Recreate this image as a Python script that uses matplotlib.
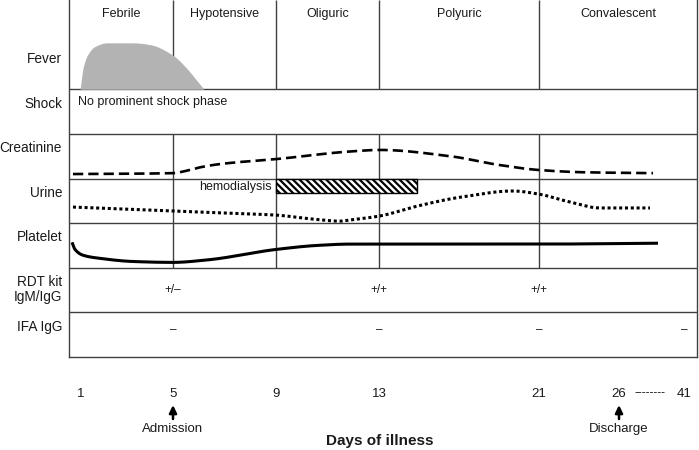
import numpy as np
import matplotlib
matplotlib.use("Agg")
import matplotlib.pyplot as plt
from matplotlib.patches import Rectangle
from matplotlib.ticker import NullLocator

plt.rcParams['font.family'] = ['Liberation Sans', 'DejaVu Sans']
plt.rcParams['hatch.linewidth'] = 1.6

# ---------------- data ----------------
phases = ['Febrile', 'Hypotensive', 'Oliguric', 'Polyuric', 'Convalescent']
phase_bounds = [5, 9, 13, 21]                 # day where each phase ends
row_labels = ['Fever', 'Shock', 'Creatinine', 'Urine', 'Platelet',
              'RDT kit\nIgM/IgG', 'IFA IgG']
tick_days = [1, 5, 9, 13, 21, 26, 41]

fever_days = [0.96, 1.10, 1.32, 1.61, 2.13, 3.26, 4.0, 5.0, 5.53, 5.92, 6.2]
fever_level = [0.0, 0.25, 0.40, 0.48, 0.52, 0.52, 0.50, 0.38, 0.235, 0.10, 0.0]

creat_days = [0.65, 5.0, 5.54, 6.05, 6.71, 7.33, 9.0, 11.87, 13.04, 16.55, 19.05, 21.0, 23.75, 33.85]
creat_level = [0.10, 0.12, 0.175, 0.25, 0.315, 0.355, 0.435, 0.605, 0.64, 0.50, 0.30, 0.19, 0.14, 0.12]

urine_days = [0.65, 5.0, 7.33, 9.0, 10.44, 11.49, 11.87, 13.04, 14.9, 17.05, 19.7, 21.0, 22.75, 24.81, 33.15]
urine_level = [0.36, 0.27, 0.22, 0.18, 0.09, 0.045, 0.07, 0.16, 0.38, 0.58, 0.72, 0.65, 0.49, 0.34, 0.34]

platelet_days = [0.61, 0.74, 1.09, 1.83, 3.26, 5.0, 6.32, 9.0, 10.59, 11.87, 21.0, 35.0]
platelet_level = [0.57, 0.41, 0.28, 0.21, 0.14, 0.12, 0.175, 0.41, 0.50, 0.53, 0.53, 0.55]

hd_start, hd_end = 9.0, 14.9

rdt_days = [5, 13, 21]
rdt_vals = ['+/\u2013', '+/+', '+/+']
ifa_days = [5, 13, 21, 41]
ifa_vals = ['\u2013', '\u2013', '\u2013', '\u2013']

admission_day = 5
discharge_day = 26

# ---------------- schematic (piecewise) time scale ----------------
scale_days = np.array([1, 5, 9, 13, 21, 26, 41], float)
scale_pos = np.array([12, 104, 207, 310, 470, 550, 615], float)   # layout units
box_width = 628.0
s0 = (scale_pos[1] - scale_pos[0]) / (scale_days[1] - scale_days[0])
s1 = (scale_pos[-1] - scale_pos[-2]) / (scale_days[-1] - scale_days[-2])


def fwd(d):
    d = np.asarray(d, float)
    out = np.interp(d, scale_days, scale_pos)
    out = np.where(d < scale_days[0], scale_pos[0] + (d - scale_days[0]) * s0, out)
    out = np.where(d > scale_days[-1], scale_pos[-1] + (d - scale_days[-1]) * s1, out)
    return out


def inv(p):
    p = np.asarray(p, float)
    out = np.interp(p, scale_pos, scale_days)
    out = np.where(p < scale_pos[0], scale_days[0] + (p - scale_pos[0]) / s0, out)
    out = np.where(p > scale_pos[-1], scale_days[-1] + (p - scale_pos[-1]) / s1, out)
    return out


def pchip(x, y, xs):
    x = np.asarray(x, float); y = np.asarray(y, float)
    h = np.diff(x); d = np.diff(y) / h
    n = len(x); m = np.zeros(n)
    for k in range(1, n - 1):
        if d[k - 1] * d[k] > 0:
            w1 = 2 * h[k] + h[k - 1]; w2 = h[k] + 2 * h[k - 1]
            m[k] = (w1 + w2) / (w1 / d[k - 1] + w2 / d[k])
    m[0] = d[0]; m[-1] = d[-1]
    idx = np.clip(np.searchsorted(x, xs) - 1, 0, n - 2)
    t = (xs - x[idx]) / h[idx]
    h00 = 2 * t**3 - 3 * t**2 + 1
    h10 = t**3 - 2 * t**2 + t
    h01 = -2 * t**3 + 3 * t**2
    h11 = t**3 - t**2
    return h00 * y[idx] + h10 * h[idx] * m[idx] + h01 * y[idx + 1] + h11 * h[idx] * m[idx + 1]


def smooth(days, levels, n=800):
    p = fwd(days)
    ps = np.linspace(p[0], p[-1], n)
    return inv(ps), pchip(p, levels, ps)


# ---------------- figure ----------------
W, H = 699, 450
fig = plt.figure(figsize=(W / 100, H / 100), dpi=100)
ax = fig.add_axes([69 / W, (H - 357) / H, 628 / W, 357 / H])
ax.set_xscale('function', functions=(fwd, inv))
ax.set_xlim(float(inv(0.0)), float(inv(box_width)))
ax.set_ylim(0, 8)

gcol = '#404040'
tcol = '#1a1a1a'
for s in ['left', 'right', 'bottom']:
    ax.spines[s].set_color(gcol)
    ax.spines[s].set_linewidth(1.0)
ax.spines['top'].set_visible(False)

# rows: fever occupies 6-8, others 1 unit each
row_bottoms = [6, 5, 4, 3, 2, 1, 0]
for y in [1, 2, 3, 4, 5, 6]:
    ax.axhline(y, color=gcol, lw=1.0, zorder=1)
ax.vlines(phase_bounds, 6, 8, color=gcol, lw=1.0, zorder=1)
ax.vlines(phase_bounds, 2, 5, color=gcol, lw=1.0, zorder=1)

# phase headers centred in each column
edges = [float(inv(0.0))] + phase_bounds + [float(inv(box_width))]
for name, a, b in zip(phases, edges[:-1], edges[1:]):
    xc = float(inv((fwd(a) + fwd(b)) / 2))
    ax.text(xc, 7.69, name, ha='center', va='center', fontsize=9, color=tcol)

# row labels
ytrans = ax.get_yaxis_transform()
for lab, yb in zip(row_labels, row_bottoms):
    if '\n' in lab:
        ax.text(-0.011, yb + 0.51, lab, transform=ytrans, ha='right', va='center',
                fontsize=9.8, color=tcol, linespacing=1.1)
    else:
        ax.text(-0.011, yb + 0.68, lab, transform=ytrans, ha='right', va='center',
                fontsize=9.8, color=tcol)

# fever
fx, fy = smooth(fever_days, fever_level)
ax.fill_between(fx, 6, 6 + 2 * np.clip(fy, 0, None), color='#b3b3b3', lw=0, zorder=2)

# shock
ax.text(0.0143, 5.71, 'No prominent shock phase', transform=ytrans,
        ha='left', va='center', fontsize=9, color=tcol)

# creatinine
cx, cy = smooth(creat_days, creat_level)
ax.plot(cx, 4 + cy, color='black', lw=1.9, dashes=(3.9, 1.9), dash_capstyle='butt', zorder=3)

# urine
ux, uy = smooth(urine_days, urine_level)
ax.plot(ux, 3 + uy, color='black', lw=2.2, dashes=(1.0, 0.9), dash_capstyle='butt', zorder=3)

# hemodialysis
BS = chr(92)
ax.add_patch(Rectangle((hd_start, 3.675), hd_end - hd_start, 4.0 - 3.675,
                       facecolor='white', edgecolor='black', hatch=BS * 5, lw=1.0, zorder=3))
ax.annotate('hemodialysis', xy=(hd_start, 3.81), xytext=(-4, 0), textcoords='offset pixels',
            ha='right', va='center', fontsize=9, color=tcol)

# platelet
px_, py_ = smooth(platelet_days, platelet_level)
ax.plot(px_, 2 + py_, color='black', lw=2.2, solid_capstyle='butt', zorder=3)

# RDT / IFA
for d, v in zip(rdt_days, rdt_vals):
    ax.text(d, 1.50, v, ha='center', va='center', fontsize=8.5, color=tcol)
for d, v in zip(ifa_days, ifa_vals):
    ax.text(d, 0.61, v, ha='center', va='center', fontsize=8.5, color=tcol)

# x ticks (days)
ax.set_xticks(tick_days, [str(d) for d in tick_days])
ax.xaxis.set_minor_locator(NullLocator())
ax.tick_params(axis='x', length=0, pad=22, labelsize=9.5, labelcolor=tcol)
ax.set_yticks([])

xtrans = ax.get_xaxis_transform()
ax.text(float(inv(581)), -0.1008, '--------', transform=xtrans, ha='center', va='center',
        fontsize=8.5, color=tcol)

for d, lab in [(admission_day, 'Admission'), (discharge_day, 'Discharge')]:
    ax.annotate('', xy=(d, -0.1345), xytext=(d, -0.1737), xycoords=xtrans, textcoords=xtrans,
                arrowprops=dict(arrowstyle='-|>,head_length=0.45,head_width=0.22', lw=1.8,
                                color='black', shrinkA=0, shrinkB=0))
    ax.text(d, -0.2017, lab, transform=xtrans, ha='center', va='center', fontsize=9.5, color=tcol)

fig.text(379.5 / W, 1 - 441 / H, 'Days of illness', ha='center', va='center',
         fontsize=11, fontweight='bold', color=tcol)

fig.savefig('out.png', dpi=100, facecolor='white')
